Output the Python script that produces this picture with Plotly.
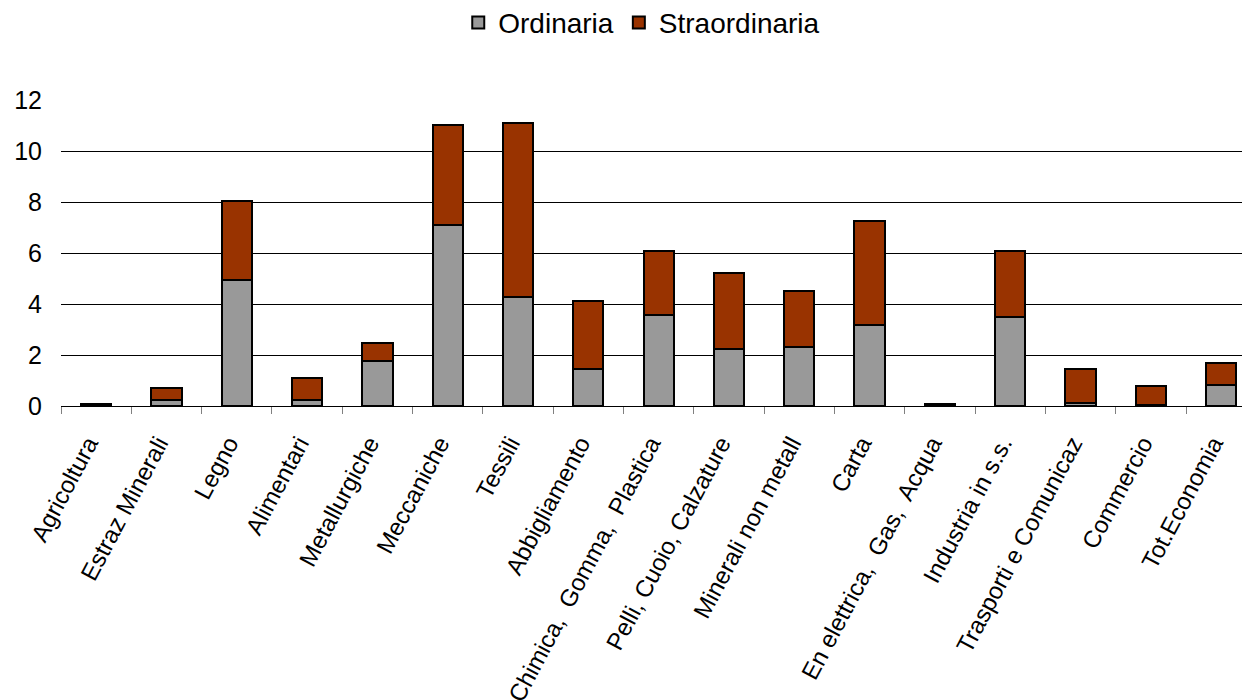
import plotly.graph_objects as go

categories = ["Agricoltura", "Estraz Minerali", "Legno", "Alimentari", "Metallurgiche",
              "Meccaniche", "Tessili", "Abbigliamento", "Chimica,  Gomma,  Plastica",
              "Pelli, Cuoio, Calzature", "Minerali non metall", "Carta",
              "En elettrica,  Gas,  Acqua", "Industria in s.s.", "Trasporti e Comunicaz",
              "Commercio", "Tot.Economia"]
ordinaria = [0.05, 0.22, 4.93, 0.22, 1.78, 7.10, 4.27, 1.46, 3.58, 2.25, 2.33, 3.19,
             0.05, 3.50, 0.13, 0.02, 0.84]
straordinaria = [0.03, 0.50, 3.12, 0.87, 0.70, 3.95, 6.84, 2.67, 2.51, 2.98, 2.19, 4.08,
                 0.03, 2.59, 1.33, 0.75, 0.86]
y_ticks = [0, 2, 4, 6, 8, 10, 12]

fig = go.Figure()
fig.add_trace(go.Bar(x=categories, y=ordinaria, name="Ordinaria",
                     marker=dict(color="#999999", line=dict(color="black", width=2)),
                     width=0.43))
fig.add_trace(go.Bar(x=categories, y=straordinaria, name="Straordinaria",
                     marker=dict(color="#993300", line=dict(color="black", width=2)),
                     width=0.43))

fig.update_layout(
    barmode="stack",
    width=1250, height=700,
    margin=dict(l=53, r=8, t=92, b=302),
    paper_bgcolor="white", plot_bgcolor="white",
    font=dict(family="Liberation Sans, Arial, sans-serif", size=24, color="black"),
    showlegend=True,
    legend=dict(orientation="h", xref="container", x=0.507, xanchor="center",
                yref="container", y=0.979, yanchor="middle", font=dict(size=28),
                traceorder="normal", tracegroupgap=0),
    xaxis=dict(range=[-0.5, 16.41], tickangle=-62, showline=True, linecolor="black",
               linewidth=1, ticks="outside", tickson="boundaries", ticklen=7,
               tickcolor="#808080", showgrid=False, ticklabelstandoff=13,
               ticklabelshift=-8, automargin=False, tickfont=dict(size=24)),
    yaxis=dict(range=[0, 12.02], tickvals=y_ticks, showgrid=True, gridcolor="black",
               gridwidth=1, zeroline=False, showline=False, ticks="",
               ticklabelstandoff=18, automargin=False, tickfont=dict(size=25)),
)

fig.write_html("out.html")
